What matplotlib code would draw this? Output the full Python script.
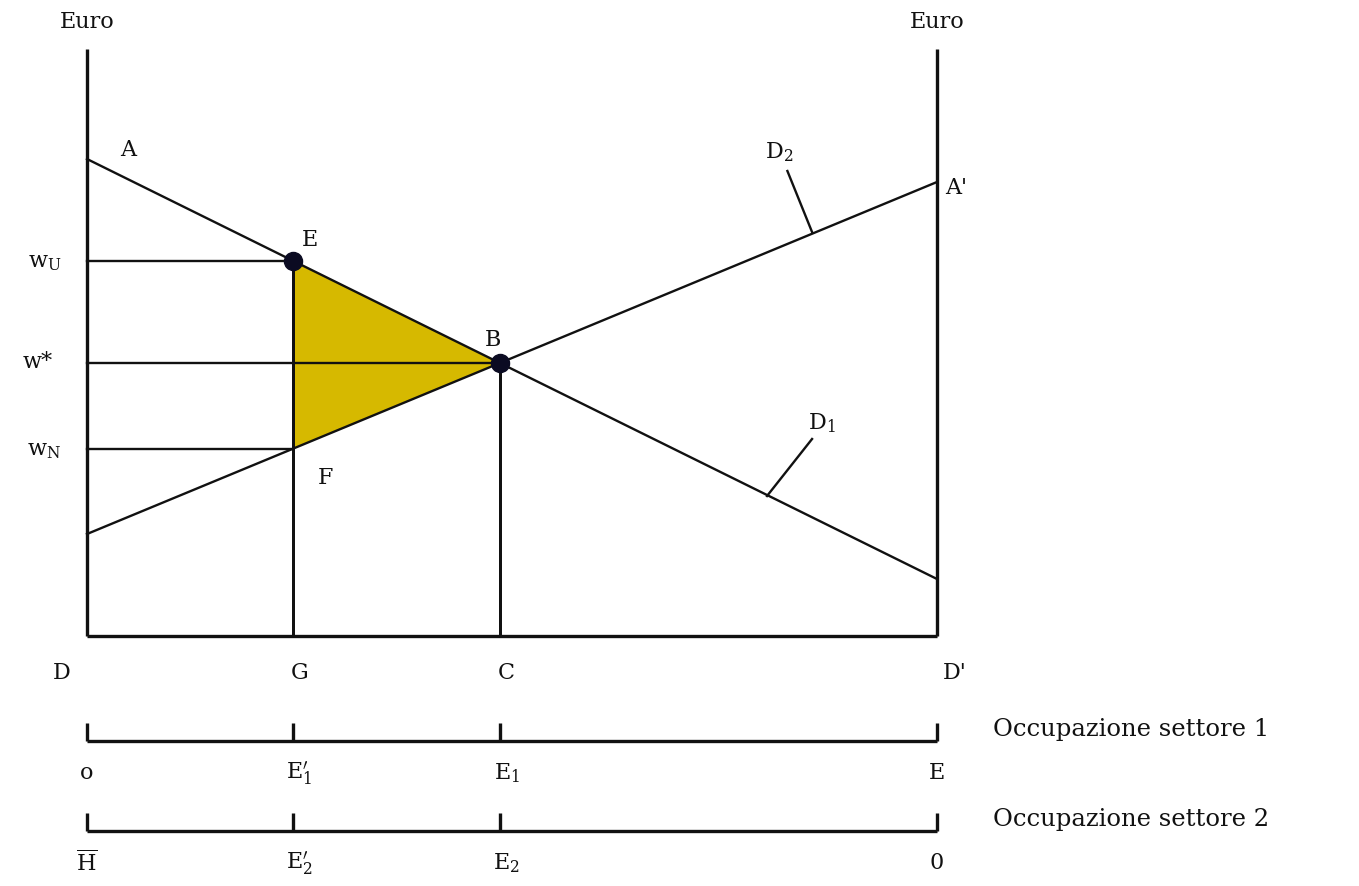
import matplotlib
matplotlib.use("Agg")
import matplotlib.pyplot as plt
import numpy as np

plt.rcParams["mathtext.fontset"] = "dejavuserif"

# ---- data (labour share on x: D=0, D'=1 ; wage in euro units) ----
D1_ends = [4.77, 0.57]      # demand sector 1 at L=0 and L=1 (A ... )
D2_ends = [1.02, 4.54]      # demand sector 2 at L=0 and L=1 (... A')
L_G = 0.242                 # employment in sector 1 with union wage
axis_top = 5.87
occ_levels = [-1.05, -1.95]
occ_titles = ["Occupazione settore 1", "Occupazione settore 2"]
occ1_labels = ["o", "E$_1'$", "E$_1$", "E"]
occ2_labels = [r"$\overline{\mathrm{H}}$", "E$_2'$", "E$_2$", "0"]
wage_labels = [r"w$_\mathrm{U}$", "w*", r"w$_\mathrm{N}$"]

def d1(x):
    return D1_ends[0] + (D1_ends[1] - D1_ends[0]) * x

def d2(x):
    return D2_ends[0] + (D2_ends[1] - D2_ends[0]) * x

L_C = (D1_ends[0] - D2_ends[0]) / ((D1_ends[0] - D1_ends[1]) + (D2_ends[1] - D2_ends[0]))
w_star = d1(L_C)
w_U = d1(L_G)
w_N = d2(L_G)

fig = plt.figure(figsize=(13.59, 8.87), dpi=100)
ax = fig.add_axes([0, 0, 1, 1])
ax.set_xlim(-87 / 850, (1359 - 87) / 850)
ax.set_ylim((637 - 887) / 100, 6.37)
ax.axis("off")

fam = ["DejaVu Serif"]
fs = 16
lw_axis = 2.4
lw = 1.7
k = "#111111"

# axes box
ax.plot([0, 0], [0, axis_top], color=k, lw=lw_axis, solid_capstyle="butt")
ax.plot([1, 1], [0, axis_top], color=k, lw=lw_axis, solid_capstyle="butt")
ax.plot([0, 1], [0, 0], color=k, lw=lw_axis, solid_capstyle="butt")

# triangle
ax.fill([L_G, L_C, L_G], [w_U, w_star, w_N], color="#D6B900", zorder=1, lw=0)

# demand curves
xs = np.array([0, 1])
ax.plot(xs, d1(xs), color=k, lw=lw, zorder=2)
ax.plot(xs, d2(xs), color=k, lw=lw, zorder=2)

# guide lines
ax.plot([0, L_G], [w_U, w_U], color=k, lw=lw)
ax.plot([0, L_C], [w_star, w_star], color=k, lw=lw)
ax.plot([0, L_G], [w_N, w_N], color=k, lw=lw)
ax.plot([L_G, L_G], [0, w_U], color=k, lw=lw_axis * 0.9)
ax.plot([L_C, L_C], [0, w_star], color=k, lw=lw_axis * 0.9)

# points
ax.plot([L_G, L_C], [w_U, w_star], "o", color="#0b0b22", ms=13, zorder=4)

# leaders
ax.plot([0.824, 0.853], [4.65, 4.04], color=k, lw=lw)
ax.plot([0.853, 0.8], [1.97, 1.40], color=k, lw=lw)

def T(x, y, s, **kw):
    kw.setdefault("ha", "center")
    kw.setdefault("va", "center")
    ax.text(x, y, s, family=fam, fontsize=kw.pop("size", fs), color=k, **kw)

T(0.0, 6.15, "Euro", size=16)
T(1.0, 6.15, "Euro", size=16)
T(0.048, 4.87, "A")
T(1.022, 4.49, "A'")
T(0.814, 4.85, "D$_2$")
T(0.865, 2.14, "D$_1$")
T(0.262, 3.97, "E")
T(0.478, 2.97, "B")
T(0.28, 1.59, "F")
T(-0.05, w_U, wage_labels[0])
T(-0.058, w_star + 0.02, wage_labels[1])
T(-0.05, w_N, wage_labels[2])

for x, s in zip([0, L_G, L_C, 1], ["D", "G", "C", "D'"]):
    dx = -0.03 if s == "D" else (0.021 if s == "D'" else 0.008)
    T(x + dx, -0.36, s)

ticks = [0, L_G, L_C, 1]
for lev, title, labs in zip(occ_levels, occ_titles, [occ1_labels, occ2_labels]):
    ax.plot([0, 1], [lev, lev], color=k, lw=lw_axis, solid_capstyle="butt")
    for x in ticks:
        ax.plot([x, x], [lev, lev + 0.18], color=k, lw=lw_axis, solid_capstyle="butt")
    T(1.066, lev + 0.12, title, ha="left", size=17.5)
    for x, s in zip(ticks, labs):
        T(x + (0.008 if 0 < x < 1 else 0), lev - 0.31, s)

fig.savefig("out.png", dpi=100)
